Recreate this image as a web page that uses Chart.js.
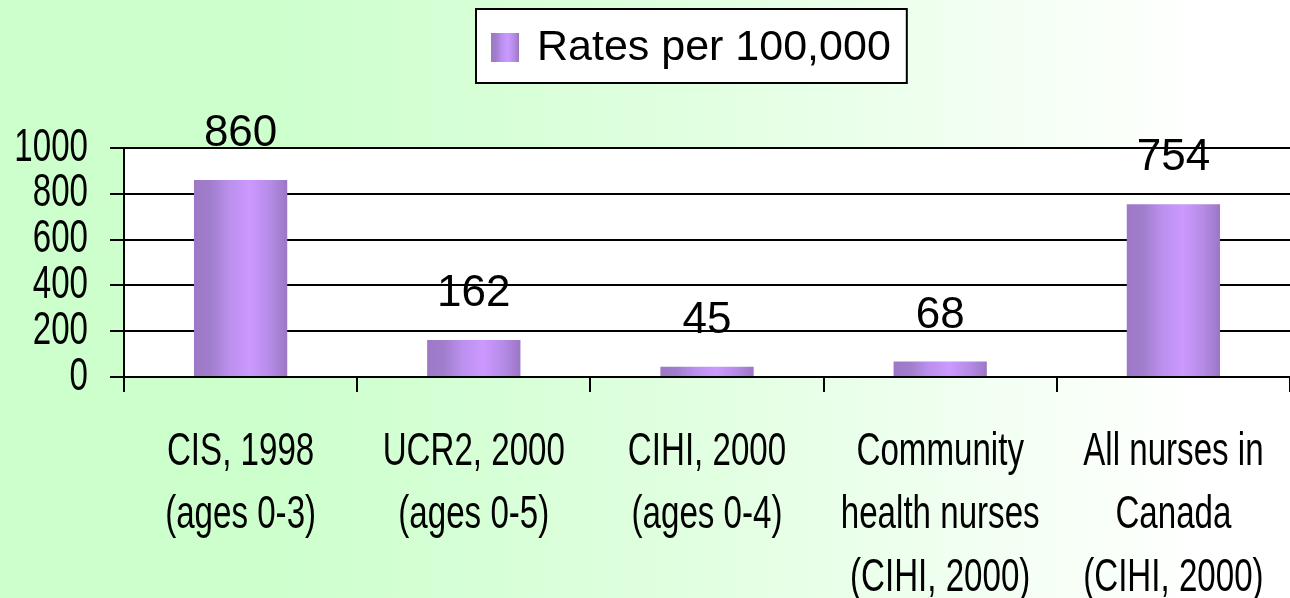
<!DOCTYPE html>
<html>
<head>
<meta charset="utf-8">
<script src="https://cdn.jsdelivr.net/npm/chart.js@4.4.1/dist/chart.umd.min.js"></script>
<style>
html,body{margin:0;padding:0;background:#fff;}
#wrap{width:1290px;height:598px;position:relative;}
</style>
</head>
<body>
<div id="wrap"><canvas id="c" width="1290" height="598"></canvas></div>
<script>
const categories = [
  ["CIS, 1998", "(ages 0-3)"],
  ["UCR2, 2000", "(ages 0-5)"],
  ["CIHI, 2000", "(ages 0-4)"],
  ["Community", "health nurses", "(CIHI, 2000)"],
  ["All nurses in", "Canada", "(CIHI, 2000)"]
];
const seriesName = "Rates per 100,000";
const rates = [860, 162, 45, 68, 754];
const yTicks = [0, 200, 400, 600, 800, 1000];

const WIDE = '"Liberation Sans", Arial, sans-serif';
const NARROW_FONT = '46px "Liberation Sans", Arial, sans-serif';
const NARROW_SCALE = 0.72;

function barGradient(ctx, x0, x1) {
  const g = ctx.createLinearGradient(x0, 0, x1, 0);
  g.addColorStop(0, '#9c78c6');
  g.addColorStop(0.18, '#a17ecd');
  g.addColorStop(0.38, '#bb90ee');
  g.addColorStop(0.6, '#cc99ff');
  g.addColorStop(0.82, '#b58be6');
  g.addColorStop(1, '#9b76c4');
  return g;
}

function narrowText(ctx, text, x, y, align) {
  ctx.save();
  ctx.translate(x, y);
  ctx.scale(NARROW_SCALE, 1);
  ctx.textAlign = align;
  ctx.textBaseline = 'middle';
  ctx.fillText(text, 0, 0);
  ctx.restore();
}

const bgPlugin = {
  id: 'bg',
  beforeDraw(chart) {
    const { ctx, width, height, chartArea } = chart;
    ctx.save();
    const g = ctx.createLinearGradient(0, 0, width, 0);
    g.addColorStop(0, '#ccffcc');
    g.addColorStop(0.19, '#ccffcc');
    g.addColorStop(0.5, '#deffde');
    g.addColorStop(0.93, '#ffffff');
    g.addColorStop(1, '#ffffff');
    ctx.fillStyle = g;
    ctx.fillRect(0, 0, width, height);
    ctx.fillStyle = '#ffffff';
    ctx.fillRect(chartArea.left, chartArea.top, chartArea.right - chartArea.left, chartArea.bottom - chartArea.top);
    ctx.restore();
  }
};

const labelsPlugin = {
  id: 'labels',
  afterDatasetsDraw(chart) {
    const { ctx } = chart;
    const meta = chart.getDatasetMeta(0);
    ctx.save();
    ctx.fillStyle = '#000';
    ctx.font = '44px ' + WIDE;
    ctx.textAlign = 'center';
    ctx.textBaseline = 'middle';
    meta.data.forEach((el, i) => {
      ctx.fillText(String(rates[i]), el.x, el.y - 46);
    });
    ctx.restore();
  },
  afterDraw(chart) {
    const { ctx } = chart;
    const xs = chart.scales.x, ys = chart.scales.y;
    ctx.save();
    ctx.fillStyle = '#000';
    ctx.font = NARROW_FONT;
    yTicks.forEach(v => {
      narrowText(ctx, String(v), xs.left - 36, ys.getPixelForValue(v), 'right');
    });
    const lineH = 63;
    categories.forEach((lines, i) => {
      const cx = xs.getPixelForValue(i);
      lines.forEach((t, j) => {
        narrowText(ctx, t, cx, xs.top + 75 + j * lineH, 'center');
      });
    });
    ctx.restore();
  }
};

const legendPlugin = {
  id: 'customLegend',
  afterDraw(chart) {
    const { ctx } = chart;
    ctx.save();
    ctx.font = '43px ' + WIDE;
    const tw = ctx.measureText(seriesName).width;
    const bx = 476, by = 9, bh = 74;
    const bw = 15 + 28 + 18 + tw + 16;
    ctx.fillStyle = '#fff';
    ctx.fillRect(bx, by, bw, bh);
    ctx.strokeStyle = '#000';
    ctx.lineWidth = 2;
    ctx.strokeRect(bx, by, bw, bh);
    ctx.fillStyle = barGradient(ctx, bx + 15, bx + 43);
    ctx.fillRect(bx + 15, by + 24, 28, 29);
    ctx.fillStyle = '#000';
    ctx.textBaseline = 'middle';
    ctx.textAlign = 'left';
    ctx.fillText(seriesName, bx + 61, by + 39);
    ctx.restore();
  }
};

new Chart(document.getElementById('c'), {
  type: 'bar',
  data: {
    labels: categories,
    datasets: [{
      label: seriesName,
      data: rates,
      backgroundColor(c) {
        const xs = c.chart.scales && c.chart.scales.x;
        if (!xs || c.dataIndex === undefined) return '#b58be6';
        const cx = xs.getPixelForValue(c.dataIndex);
        const half = (xs.width / categories.length) * 0.4 / 2;
        if (!isFinite(cx) || !isFinite(half) || half <= 0) return '#b58be6';
        return barGradient(c.chart.ctx, cx - half, cx + half);
      },
      borderWidth: 0,
      barPercentage: 0.4,
      categoryPercentage: 1.0
    }]
  },
  options: {
    responsive: false,
    animation: false,
    devicePixelRatio: 1,
    layout: { padding: { top: 148, right: 0, bottom: 0, left: 0 } },
    plugins: {
      legend: { display: false },
      tooltip: { enabled: false },
      title: { display: false }
    },
    scales: {
      x: {
        grid: {
          offset: true,
          drawOnChartArea: false,
          color: '#000',
          lineWidth: 2,
          tickLength: 15
        },
        border: { color: '#000', width: 2 },
        ticks: { display: false },
        afterFit(s) { s.height = 221; }
      },
      y: {
        min: 0,
        max: 1000,
        afterBuildTicks(s) { s.ticks = yTicks.map(v => ({ value: v })); },
        grid: {
          color: '#000',
          lineWidth: 2,
          tickLength: 14
        },
        border: { color: '#000', width: 2 },
        ticks: { display: false },
        afterFit(s) { s.width = 124; }
      }
    }
  },
  plugins: [bgPlugin, labelsPlugin, legendPlugin]
});
</script>
</body>
</html>
